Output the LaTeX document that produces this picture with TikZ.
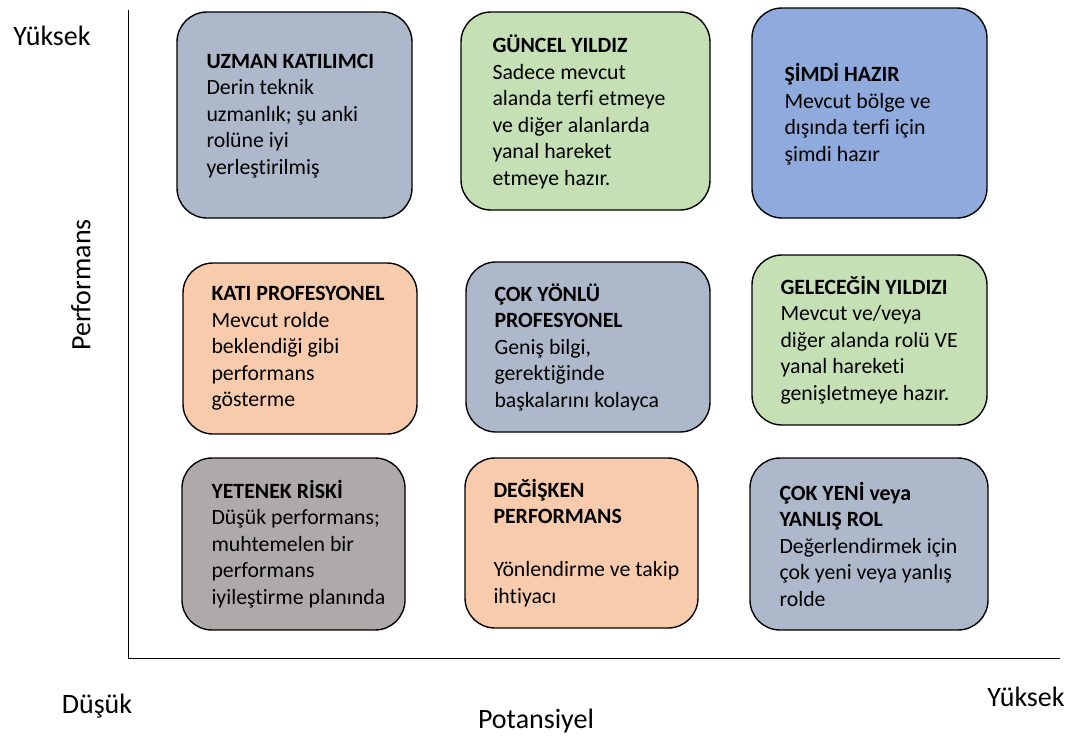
\documentclass[tikz,border=0pt]{standalone}
\usepackage{fontspec}
\setmainfont{Carlito}[Ligatures=NoCommon]
\definecolor{bluegray}{HTML}{ADB9CA}
\definecolor{lightgreen}{HTML}{C5E0B4}
\definecolor{midblue}{HTML}{8FAADC}
\definecolor{peach}{HTML}{F8CBAD}
\definecolor{warmgray}{HTML}{AEAAAA}
\begin{document}
\begin{tikzpicture}[x=1pt,y=-1pt,
  card/.style={draw=black, line width=1.4pt, rounded corners=30pt, inner sep=0pt},
  cardtext/.style={anchor=west, align=left, inner sep=0pt, font=\fontsize{21.8}{26.5}\selectfont},
  axislabel/.style={font=\fontsize{28}{34}\selectfont, inner sep=0pt}]
\useasboundingbox (0,0) rectangle (1076,740);

% axes
\coordinate (atop) at (128,10);
\coordinate (aorig) at (128,658);
\coordinate (aright) at (1060,658);
\draw[line width=1pt] (atop) -- (aorig) -- (aright);

\node[axislabel] (yhigh) at (52,36) {Yüksek};
\node[axislabel, rotate=90] (perf) at (81,285) {Performans};
\node[axislabel] (xlow) at (97,706) {Düşük};
\node[axislabel] (pot) at (536,721) {Potansiyel};
\node[axislabel] (xhigh) at (1026,697) {Yüksek};

% row 1
\node[card, fill=bluegray, minimum width=235pt, minimum height=206pt] (b1) at (294.5,115) {};
\node[cardtext] (t1) at ([xshift=30pt,yshift=-1pt]b1.west) {\textbf{UZMAN KATILIMCI}\\Derin teknik\\uzmanlık; şu anki\\rolüne iyi\\yerleştirilmiş};

\node[card, fill=lightgreen, minimum width=249pt, minimum height=198pt] (b2) at (585.5,111) {};
\node[cardtext] (t2) at ([xshift=32pt,yshift=-1pt]b2.west) {\textbf{GÜNCEL YILDIZ}\\Sadece mevcut\\alanda terfi etmeye\\ve diğer alanlarda\\yanal hareket\\etmeye hazır.};

\node[card, fill=midblue, minimum width=235pt, minimum height=210pt] (b3) at (869.5,113) {};
\node[cardtext] (t3) at ([xshift=33pt,yshift=-1pt]b3.west) {\textbf{ŞİMDİ HAZIR}\\Mevcut bölge ve\\dışında terfi için\\şimdi hazır};

% row 2
\node[card, fill=peach, minimum width=234pt, minimum height=171pt] (b4) at (300,348.5) {};
\node[cardtext] (t4) at ([xshift=29pt]b4.west) {\textbf{KATI PROFESYONEL}\\Mevcut rolde\\beklendiği gibi\\performans\\gösterme};

\node[card, fill=bluegray, minimum width=244pt, minimum height=170pt] (b5) at (588,347) {};
\node[cardtext] (t5) at ([xshift=29pt]b5.west) {\textbf{ÇOK YÖNLÜ}\\\textbf{PROFESYONEL}\\Geniş bilgi,\\gerektiğinde\\başkalarını kolayca};

\node[card, fill=lightgreen, minimum width=235pt, minimum height=170pt] (b6) at (869.5,340) {};
\node[cardtext] (t6) at ([xshift=29pt]b6.west) {\textbf{GELECEĞİN YILDIZI}\\Mevcut ve/veya\\diğer alanda rolü VE\\yanal hareketi\\genişletmeye hazır.};

% row 3
\node[card, fill=warmgray, minimum width=223pt, minimum height=172pt] (b7) at (293.5,544) {};
\node[cardtext] (t7) at ([xshift=30pt]b7.west) {\textbf{YETENEK RİSKİ}\\Düşük performans;\\muhtemelen bir\\performans\\iyileştirme planında};

\node[card, fill=peach, minimum width=233pt, minimum height=170pt] (b8) at (581.5,543) {};
\node[cardtext] (t8) at ([xshift=29pt]b8.west) {\textbf{DEĞİŞKEN}\\\textbf{PERFORMANS}\\[26.5pt]Yönlendirme ve takip\\ihtiyacı};

\node[card, fill=bluegray, minimum width=238pt, minimum height=172pt] (b9) at (869,544) {};
\node[cardtext] (t9) at ([xshift=30pt]b9.west) {\textbf{ÇOK YENİ veya}\\\textbf{YANLIŞ ROL}\\Değerlendirmek için\\çok yeni veya yanlış\\rolde};
\end{tikzpicture}
\end{document}
